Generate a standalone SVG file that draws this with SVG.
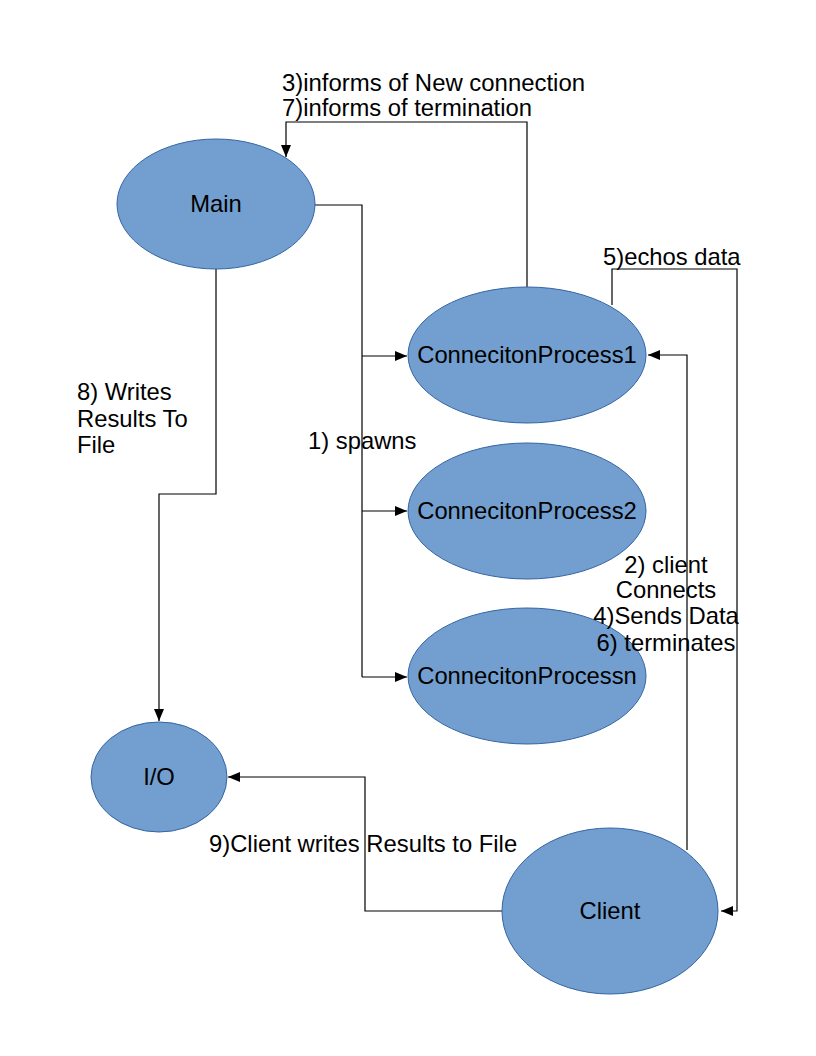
<svg xmlns="http://www.w3.org/2000/svg" width="816" height="1056" viewBox="0 0 816 1056">
<style>
.node{fill:#729fcf;stroke:#3465a4;stroke-width:1}
.lbl{font-family:"Liberation Sans",Arial,sans-serif;font-size:23.8px;fill:#000}
.top{font-size:23px}
.ctr{text-anchor:middle}
.conn{fill:none;stroke:#000;stroke-width:1.2}
</style>
<defs>
<marker id="arr" viewBox="0 0 12 10" refX="12" refY="5" markerWidth="12" markerHeight="10" markerUnits="userSpaceOnUse" orient="auto">
<path d="M0,0 L12,5 L0,10 Z" fill="#000"/>
</marker>
</defs>
<rect width="816" height="1056" fill="#fff"/>
<g id="connectors">
<path class="conn" d="M314,205 H362 V677" />
<path class="conn" d="M362,356 H407" marker-end="url(#arr)"/>
<path class="conn" d="M362,511 H407" marker-end="url(#arr)"/>
<path class="conn" d="M362,677 H407" marker-end="url(#arr)"/>
<path class="conn" d="M527,287 V122 H286 V157" marker-end="url(#arr)"/>
<path class="conn" d="M216,269 V494 H159 V721" marker-end="url(#arr)"/>
<path class="conn" d="M612,305 V269 H737 V911 H721" marker-end="url(#arr)"/>
<path class="conn" d="M687,850 V355 H648" marker-end="url(#arr)"/>
<path class="conn" d="M502,911 H365 V777 H228" marker-end="url(#arr)"/>
</g>
<g id="main">
<ellipse class="node" cx="216" cy="204" rx="99" ry="65"/>
<text class="lbl ctr" x="216" y="212">Main</text>
</g>
<g id="cp1">
<ellipse class="node" cx="527" cy="355" rx="119" ry="68"/>
<text class="lbl ctr" x="527" y="363">ConnecitonProcess1</text>
</g>
<g id="cp2">
<ellipse class="node" cx="527" cy="511" rx="119" ry="68"/>
<text class="lbl ctr" x="527" y="519">ConnecitonProcess2</text>
</g>
<g id="cpn">
<ellipse class="node" cx="527" cy="676" rx="119" ry="68"/>
<text class="lbl ctr" x="527" y="684">ConnecitonProcessn</text>
</g>
<g id="io">
<ellipse class="node" cx="159" cy="777" rx="68" ry="55"/>
<text class="lbl ctr" x="159" y="785">I/O</text>
</g>
<g id="client">
<ellipse class="node" cx="610" cy="911" rx="108" ry="83"/>
<text class="lbl ctr" x="610" y="919">Client</text>
</g>
<g id="connector-labels">
<text class="lbl top" x="282" y="91" textLength="303" lengthAdjust="spacingAndGlyphs">3)informs of New connection</text>
<text class="lbl top" x="282" y="116" textLength="250" lengthAdjust="spacingAndGlyphs">7)informs of termination</text>
<text class="lbl" x="603" y="265">5)echos data</text>
<text class="lbl" x="77" y="400">8) Writes</text>
<text class="lbl" x="77" y="427">Results To</text>
<text class="lbl" x="77" y="453">File</text>
<text class="lbl" x="308" y="449">1) spawns</text>
<text class="lbl ctr" x="666" y="573">2) client</text>
<text class="lbl ctr" x="666" y="598">Connects</text>
<text class="lbl ctr" x="666" y="624">4)Sends Data</text>
<text class="lbl ctr" x="666" y="651">6) terminates</text>
<text class="lbl" x="209" y="852">9)Client writes Results to File</text>
</g>
</svg>
